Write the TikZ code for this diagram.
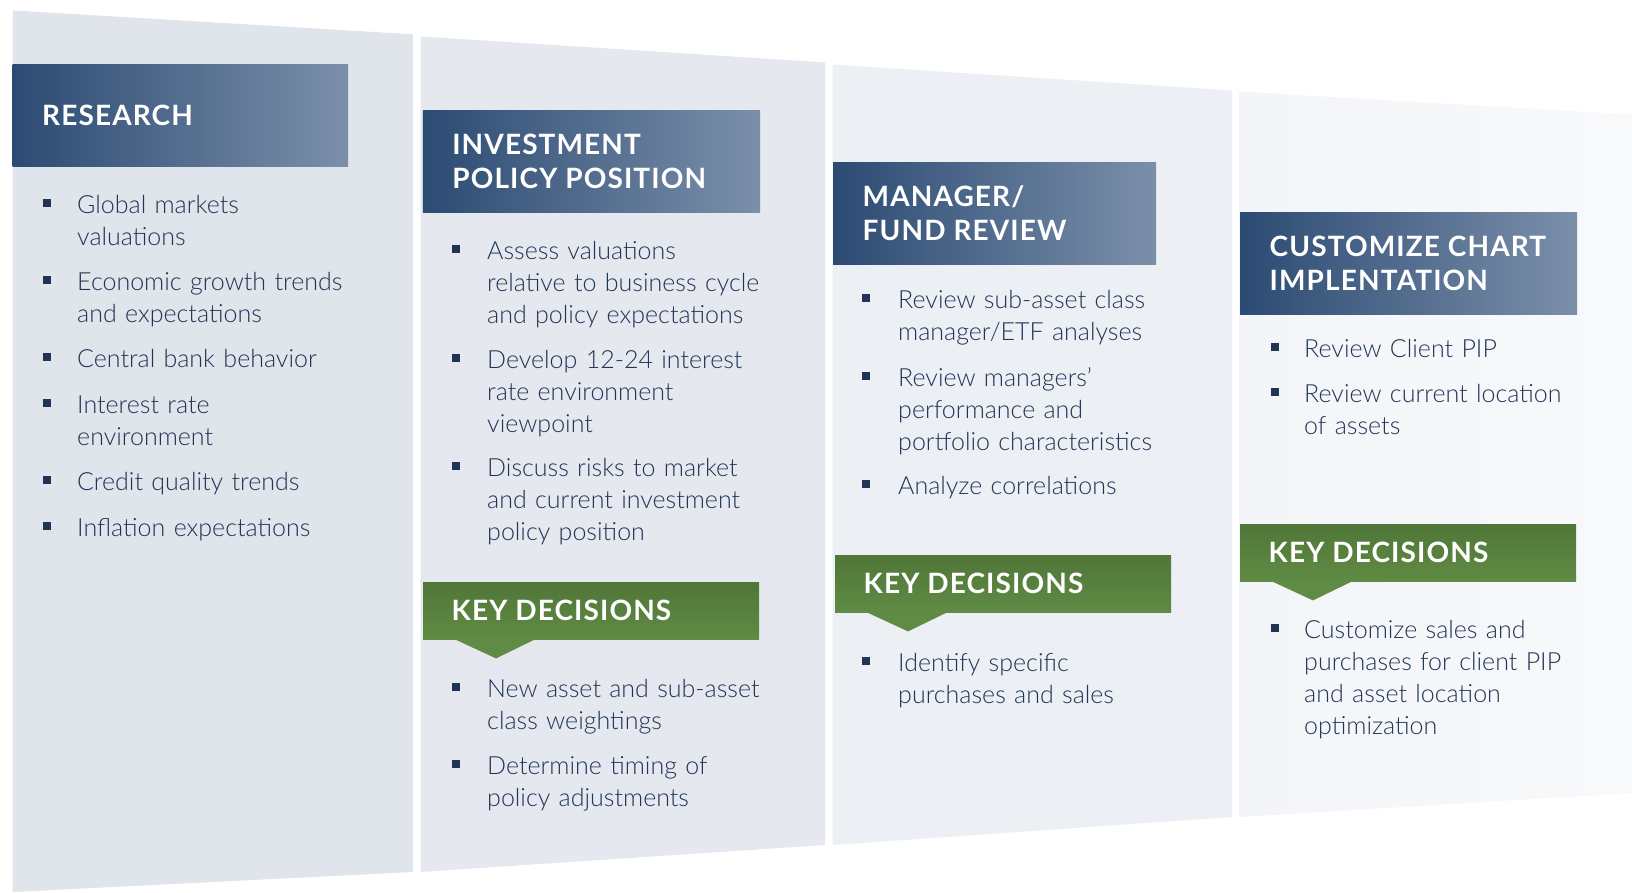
\documentclass[tikz,border=0pt]{standalone}
\usepackage{fontspec}
\setmainfont{Lato}
\newfontfamily\capsfont[LetterSpace=4]{Lato}
\newfontfamily\bodyfont{Lato Light}
\usetikzlibrary{positioning}

\definecolor{ink}{RGB}{33,52,86}
\definecolor{pnlA}{RGB}{224,228,235}
\definecolor{pnlB}{RGB}{229,233,239}
\definecolor{pnlC}{RGB}{236,239,243}
\definecolor{pnlD}{RGB}{243,245,248}
\definecolor{pnlE}{RGB}{248,249,251}
\definecolor{hdL}{RGB}{44,75,115}
\definecolor{hdR}{RGB}{123,143,170}
\definecolor{kdT}{RGB}{80,118,56}
\definecolor{kdB}{RGB}{95,139,68}

\begin{document}
\begin{tikzpicture}[x=1pt, y=-1pt,
  head/.style={anchor=north west, minimum height=102pt, inner sep=0pt, left color=hdL, right color=hdR},
  headtxt/.style={text=white, align=left, inner sep=0pt, font=\capsfont\bfseries\fontsize{28}{34}\selectfont},
  kd/.style={anchor=north west, minimum width=336pt, minimum height=57pt, inner sep=0pt, top color=kdT, bottom color=kdB},
  item/.style={anchor=base west, text width=340pt, align=left, inner sep=0pt, text=ink, font=\bodyfont\fontsize{25}{32.3}\selectfont},
  dot/.style={fill=ink, minimum size=8pt, inner sep=0pt}]
  \useasboundingbox (0,0) rectangle (1632,892);

  % Slanted panels, lighter towards the right
  \foreach \xa/\xb/\ta/\tb/\ba/\bb/\c in {12.5/413/10.4/34.3/892/872/pnlA, 420.5/825/36.4/62.4/872/845/pnlB, 832.6/1232/64.5/90.5/845/817/pnlC}
    \fill[\c] (\xa,\ta) -- (\xb,\tb) -- (\xb,\bb) -- (\xa,\ba) -- cycle;
  \shade[left color=pnlD, right color=pnlE] (1239.6,91.6) -- (1632,114.5) -- (1632,793) -- (1239.6,817) -- cycle;

  % Step headers
  \node[head, minimum width=335.5pt] (hd1) at (12.5,64.5) {};
  \node[headtxt, right=29.5pt of hd1.west] (ht1) {RESEARCH};
  \node[head, minimum width=337.4pt] (hd2) at (422.6,110) {};
  \node[headtxt, right=29.5pt of hd2.west] (ht2) {INVESTMENT\\POLICY POSITION};
  \node[head, minimum width=323pt] (hd3) at (833,162) {};
  \node[headtxt, right=29.5pt of hd3.west] (ht3) {MANAGER/\\FUND REVIEW};
  \node[head, minimum width=337pt] (hd4) at (1240,212) {};
  \node[headtxt, right=29.5pt of hd4.west] (ht4) {CUSTOMIZE CHART\\IMPLENTATION};

  % Key decision tabs with the little pointer underneath
  \foreach \n/\x/\y in {2/423/582, 3/835/555, 4/1240/524} {
    \node[kd] (kd\n) at (\x,\y) {};
    \fill[kdB] ([xshift=32pt]kd\n.south west) -- ([xshift=112pt]kd\n.south west)
      -- ([xshift=73pt, yshift=-19pt]kd\n.south west) -- cycle;
    \node[headtxt, right=28.5pt of kd\n.west] (kt\n) {KEY DECISIONS};
  }

  % Research bullets
  \foreach \y/\txt [count=\i] in {213/{Global markets\\valuations}, 290/{Economic growth trends\\and expectations}, 367/{Central bank behavior}, 413/{Interest rate\\environment}, 490/{Credit quality trends}, 536/{Inflation expectations}} {
    \node[item] (ra\i) at (77,\y) {\txt};
    \node[dot] (rb\i) at (47,\y-10) {};
  }

  % Policy position bullets
  \foreach \y/\txt [count=\i] in {259/{Assess valuations\\relative to business cycle\\and policy expectations}, 368/{Develop 12-24 interest\\rate environment\\viewpoint}, 476/{Discuss risks to market\\and current investment\\policy position}, 697/{New asset and sub-asset\\class weightings}, 774/{Determine timing of\\policy adjustments}} {
    \node[item] (pa\i) at (487,\y) {\txt};
    \node[dot] (pb\i) at (456,\y-10) {};
  }

  % Manager review bullets
  \foreach \y/\txt [count=\i] in {308/{Review sub-asset class\\manager/ETF analyses}, 386/{Review managers’\\performance and\\portfolio characteristics}, 494/{Analyze correlations}, 671/{Identify specific\\purchases and sales}} {
    \node[item] (ma\i) at (898,\y) {\txt};
    \node[dot] (mb\i) at (866,\y-10) {};
  }

  % Implementation bullets
  \foreach \y/\txt [count=\i] in {357/{Review Client PIP}, 402/{Review current location\\of assets}, 638/{Customize sales and\\purchases for client PIP\\and asset location\\optimization}} {
    \node[item] (ca\i) at (1304,\y) {\txt};
    \node[dot] (cb\i) at (1275,\y-10) {};
  }
\end{tikzpicture}
\end{document}
